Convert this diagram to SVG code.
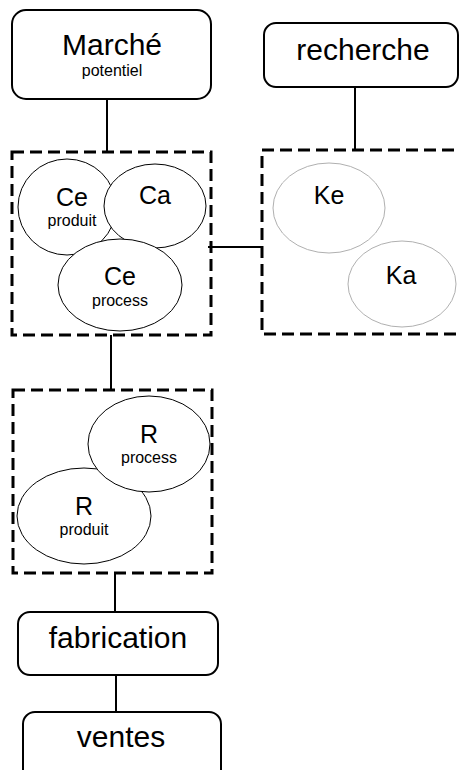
<svg xmlns="http://www.w3.org/2000/svg" width="460" height="770" viewBox="0 0 460 770">
<style>
.box{fill:#fff;stroke:#000;stroke-width:2}
.grp{fill:none;stroke:#000;stroke-width:3;stroke-dasharray:12,6}
.el{fill:#fff;stroke:#000;stroke-width:1}
.elg{fill:#fff;stroke:#b0b0b0;stroke-width:1}
.ln{stroke:#000;stroke-width:2;fill:none}
text{font-family:"Liberation Sans",Arial,sans-serif;text-anchor:middle;fill:#000}
.big{font-size:30px}
.mid{font-size:25px}
.sm{font-size:16px}
</style>
<rect width="460" height="770" fill="#fff"/>
<g id="connectors">
<line class="ln" x1="107" y1="99" x2="107" y2="152"/>
<line class="ln" x1="355" y1="87" x2="355" y2="150"/>
<line class="ln" x1="208" y1="247" x2="262" y2="247"/>
<line class="ln" x1="111" y1="335" x2="111" y2="390"/>
<line class="ln" x1="115" y1="573" x2="115" y2="612"/>
<line class="ln" x1="116" y1="675" x2="116" y2="712"/>
</g>
<g id="marche">
<rect class="box" x="12" y="10" width="199" height="89" rx="14"/>
<text class="big" x="112" y="55">Marché</text>
<text class="sm" x="112" y="76">potentiel</text>
</g>
<g id="recherche">
<rect class="box" x="264" y="23" width="194" height="64" rx="12"/>
<text class="big" x="363" y="60">recherche</text>
</g>
<g id="groupe-c">
<rect class="grp" x="12" y="152" width="199" height="183"/>
<g id="ce-produit">
<ellipse class="el" cx="67" cy="207" rx="49" ry="48"/>
<text class="mid" x="72" y="206">Ce</text>
<text class="sm" x="72" y="226">produit</text>
</g>
<g id="ca">
<ellipse class="el" cx="155" cy="206" rx="51" ry="42"/>
<text class="mid" x="155" y="204">Ca</text>
</g>
<g id="ce-process">
<ellipse class="el" cx="120" cy="285" rx="62" ry="46"/>
<text class="mid" x="120" y="285">Ce</text>
<text class="sm" x="120" y="306">process</text>
</g>
</g>
<g id="groupe-k">
<rect class="grp" x="262" y="150" width="203" height="184"/>
<g id="ke">
<ellipse class="elg" cx="329" cy="208" rx="56" ry="45"/>
<text class="mid" x="329" y="204">Ke</text>
</g>
<g id="ka">
<ellipse class="elg" cx="402" cy="284" rx="54" ry="43"/>
<text class="mid" x="401" y="284">Ka</text>
</g>
</g>
<g id="groupe-r">
<rect class="grp" x="13" y="390" width="199" height="183"/>
<g id="r-produit">
<ellipse class="el" cx="84" cy="516" rx="67" ry="48"/>
<text class="mid" x="84" y="515">R</text>
<text class="sm" x="84" y="535">produit</text>
</g>
<g id="r-process">
<ellipse class="el" cx="149" cy="444" rx="61" ry="48"/>
<text class="mid" x="149" y="443">R</text>
<text class="sm" x="149" y="463">process</text>
</g>
</g>
<g id="fabrication">
<rect class="box" x="18" y="612" width="200" height="63" rx="12"/>
<text class="big" x="118" y="648">fabrication</text>
</g>
<g id="ventes">
<rect class="box" x="23" y="712" width="198" height="80" rx="12"/>
<text class="big" x="121" y="747">ventes</text>
</g>
</svg>
